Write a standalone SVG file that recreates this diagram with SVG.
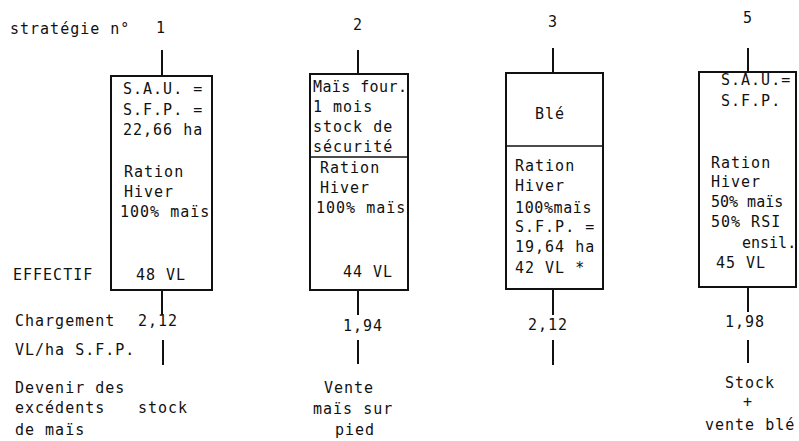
<svg xmlns="http://www.w3.org/2000/svg" width="799" height="441" viewBox="0 0 799 441">
<style>
text{font-family:"DejaVu Sans Mono","Liberation Mono",monospace;font-size:15px;letter-spacing:1px;fill:#111}
.box{fill:none;stroke:#111;stroke-width:2}
.div{stroke:#111;stroke-width:1.6}
.stem{stroke:#111;stroke-width:2;fill:none}
.mid{text-anchor:middle}
.tight{letter-spacing:0}
</style>
<rect width="799" height="441" fill="#fff"/>
<g id="header">
<text x="10" y="34">stratégie n°</text>
<text x="161" y="33" class="mid">1</text>
<text x="358" y="30" class="mid">2</text>
<text x="553" y="27" class="mid">3</text>
<text x="748" y="23" class="mid">5</text>
</g>
<g id="row-labels">
<text x="13" y="280">EFFECTIF</text>
<text x="15" y="326">Chargement</text>
<text x="15" y="355">VL/ha S.F.P.</text>
<text x="15" y="393">Devenir des</text>
<text x="15" y="413">excédents</text>
<text x="138" y="413">stock</text>
<text x="15" y="435">de maïs</text>
</g>
<g id="connectors">
<line class="stem" x1="162" y1="50" x2="162" y2="76"/>
<line class="stem" x1="162" y1="290" x2="162" y2="315"/>
<line class="stem" x1="163" y1="340" x2="163" y2="365"/>
<line class="stem" x1="358" y1="50" x2="358" y2="74"/>
<line class="stem" x1="358" y1="290" x2="358" y2="315"/>
<line class="stem" x1="358" y1="340" x2="358" y2="364"/>
<line class="stem" x1="553" y1="48" x2="553" y2="73"/>
<line class="stem" x1="553" y1="289" x2="553" y2="315"/>
<line class="stem" x1="553" y1="340" x2="553" y2="365"/>
<line class="stem" x1="748" y1="48" x2="748" y2="72"/>
<line class="stem" x1="748" y1="287" x2="748" y2="312"/>
<line class="stem" x1="748" y1="340" x2="748" y2="363"/>
</g>
<g id="strategie-1">
<rect class="box" x="111" y="76" width="101" height="214"/>
<text x="123" y="94">S.A.U. =</text>
<text x="123" y="115">S.F.P. =</text>
<text x="123" y="135">22,66 ha</text>
<text x="124" y="177">Ration</text>
<text x="124" y="197">Hiver</text>
<text x="120" y="217">100% maïs</text>
<text x="136" y="280">48 VL</text>
</g>
<g id="strategie-2">
<rect class="box" x="310" y="74" width="98" height="216"/>
<line class="div" x1="310" y1="157" x2="408" y2="157"/>
<text x="313" y="92" style="letter-spacing:0.4px">Maïs four.</text>
<text x="313" y="112">1 mois</text>
<text x="313" y="132">stock  de</text>
<text x="313" y="152">sécurité</text>
<text x="320" y="173">Ration</text>
<text x="320" y="193">Hiver</text>
<text x="316" y="213">100% maïs</text>
<text x="343" y="277">44 VL</text>
</g>
<g id="strategie-3">
<rect class="box" x="506" y="73" width="97" height="216"/>
<line class="div" x1="506" y1="146" x2="603" y2="146"/>
<text x="550" y="119" class="mid">Blé</text>
<text x="515" y="171">Ration</text>
<text x="515" y="191">Hiver</text>
<text x="515" y="213" style="letter-spacing:0.6px">100%maïs</text>
<text x="515" y="232">S.F.P. =</text>
<text x="515" y="252">19,64 ha</text>
<text x="515" y="273">42 VL *</text>
</g>
<g id="strategie-5">
<rect class="box" x="699" y="72" width="97" height="215"/>
<text x="721" y="85">S.A.U.=</text>
<text x="721" y="106">S.F.P.</text>
<text x="711" y="168">Ration</text>
<text x="711" y="187">Hiver</text>
<text x="711" y="207" class="tight">50% maïs</text>
<text x="711" y="227">50% RSI</text>
<text x="742" y="248" class="tight">ensil.</text>
<text x="716" y="268">45 VL</text>
</g>
<g id="chargements">
<text x="138" y="326">2,12</text>
<text x="343" y="331">1,94</text>
<text x="528" y="330">2,12</text>
<text x="725" y="327">1,98</text>
</g>
<g id="devenir">
<text x="324" y="393">Vente</text>
<text x="313" y="414">maïs sur</text>
<text x="335" y="435">pied</text>
<text x="725" y="388">Stock</text>
<text x="748" y="407" class="mid">+</text>
<text x="705" y="430">vente blé</text>
</g>
</svg>
